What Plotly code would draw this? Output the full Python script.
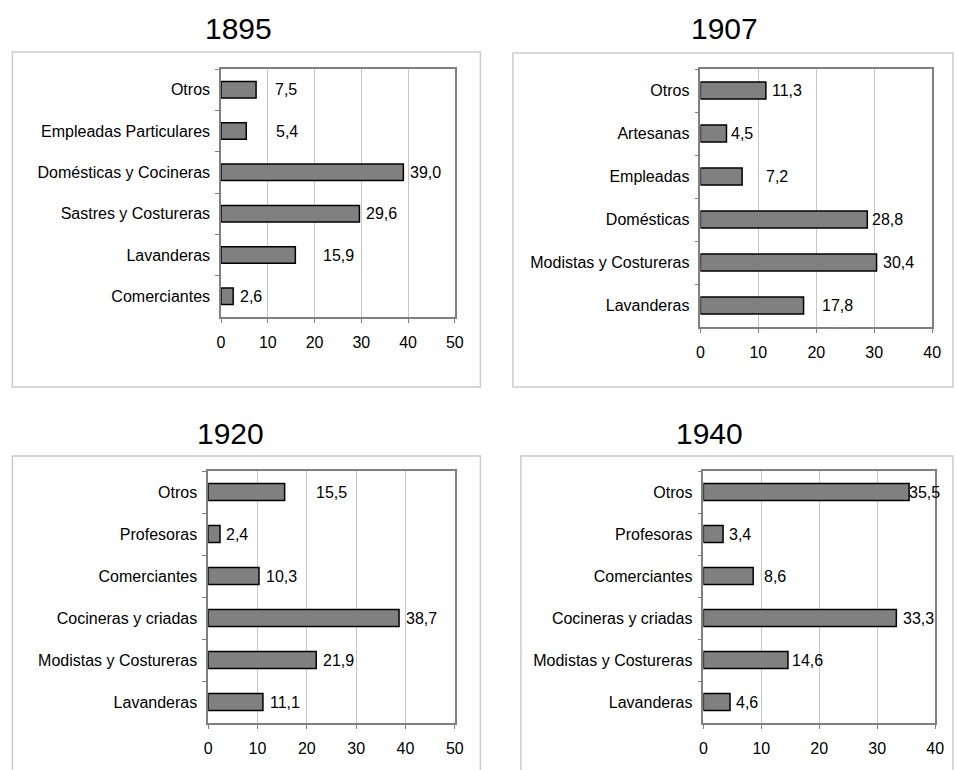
import plotly.graph_objects as go

# ---------------- data ----------------
years = ["1895", "1907", "1920", "1940"]

cats_1895 = ["Otros", "Empleadas Particulares", "Domésticas y Cocineras",
             "Sastres y Costureras", "Lavanderas", "Comerciantes"]
vals_1895 = [7.5, 5.4, 39.0, 29.6, 15.9, 2.6]

cats_1907 = ["Otros", "Artesanas", "Empleadas", "Domésticas",
             "Modistas y Costureras", "Lavanderas"]
vals_1907 = [11.3, 4.5, 7.2, 28.8, 30.4, 17.8]

cats_1920 = ["Otros", "Profesoras", "Comerciantes", "Cocineras y criadas",
             "Modistas y Costureras", "Lavanderas"]
vals_1920 = [15.5, 2.4, 10.3, 38.7, 21.9, 11.1]

cats_1940 = ["Otros", "Profesoras", "Comerciantes", "Cocineras y criadas",
             "Modistas y Costureras", "Lavanderas"]
vals_1940 = [35.5, 3.4, 8.6, 33.3, 14.6, 4.6]

x_max = [50, 40, 50, 40]
x_tick_step = 10

# ---------------- layout / style ----------------
W, H = 956, 770


def px_x(v):
    return v / W


def px_y(v):
    return 1 - v / H


# plot areas in window pixels: (left, right, top, bottom)
plot_px = [(220, 457, 69, 317), (706, 941, 69, 327),
           (207, 457, 471, 723), (709, 944, 471, 723)]
# outer frames in window pixels (left, right, top, bottom)
frame_px = [(8.5, 483, 52, 387), (516, 962, 53, 387),
            (8.5, 483, 456, 780), (524, 962, 456, 780)]
# title centres in window pixels
title_px = [(238, 29), (730, 29), (230, 433), (715, 433)]
# pixel offsets of the value labels from the bar ends (Excel manual placement)
label_gap = [[17, 28, 5, 5, 26, 5],
             [4, 3, 22, 3, 4, 16],
             [29, 4, 5, 5, 5, 5],
             [-2, 4, 9, 5, 2, 4]]

FONT = "Liberation Sans, Arial, sans-serif"
TITLE_FONT = "Liberation Sans Narrow, Arial Narrow, Liberation Sans, sans-serif"
BAR_FILL = "#808080"
AXIS_COL = "#808080"
GRID_COL = "#c8c8c8"
FRAME_COL = "#cccccc"

panels = [(cats_1895, vals_1895), (cats_1907, vals_1907),
          (cats_1920, vals_1920), (cats_1940, vals_1940)]

fig = go.Figure()
annotations = []
shapes = []
layout = {}

for i, (cats, vals) in enumerate(panels):
    n = i + 1
    xa = "x" if n == 1 else f"x{n}"
    ya = "y" if n == 1 else f"y{n}"
    fig.add_trace(go.Bar(
        x=vals, y=cats, orientation="h",
        xaxis=xa, yaxis=ya,
        width=0.4,
        marker=dict(color=BAR_FILL, line=dict(color="#000000", width=1.5)),
        hoverinfo="skip", showlegend=False,
    ))
    l, r, t, b = plot_px[i]
    layout[f"xaxis{'' if n == 1 else n}"] = dict(
        domain=[px_x(l), px_x(r)], anchor=ya,
        range=[0, x_max[i]], tickmode="linear", tick0=0, dtick=x_tick_step,
        showgrid=True, gridcolor=GRID_COL, gridwidth=1,
        showline=True, linecolor=AXIS_COL, linewidth=1.5, mirror=True,
        ticks="outside", ticklen=4, tickcolor=AXIS_COL, tickwidth=1,
        ticklabelstandoff=6,
        tickfont=dict(family=FONT, size=16, color="#000000"),
        zeroline=False, fixedrange=True,
    )
    layout[f"yaxis{'' if n == 1 else n}"] = dict(
        domain=[px_y(b), px_y(t)], anchor=xa,
        type="category", categoryorder="array", categoryarray=cats,
        autorange="reversed",
        showline=True, linecolor=AXIS_COL, linewidth=1.5, mirror=True,
        ticks="outside", ticklen=4, tickcolor=AXIS_COL, tickwidth=1,
        tickson="boundaries", ticklabelstandoff=6,
        tickfont=dict(family=FONT, size=16, color="#000000"),
        showgrid=False, zeroline=False, fixedrange=True,
    )
    for j, (c, v) in enumerate(zip(cats, vals)):
        annotations.append(dict(
            x=v, y=c, xref=xa, yref=ya, xanchor="left", yanchor="middle",
            xshift=label_gap[i][j], showarrow=False,
            text=f"{v:.1f}".replace(".", ","),
            font=dict(family=FONT, size=16, color="#000000"),
        ))
    tx, ty = title_px[i]
    annotations.append(dict(
        x=px_x(tx), y=px_y(ty), xref="paper", yref="paper",
        xanchor="center", yanchor="middle", showarrow=False,
        text=years[i], font=dict(family=TITLE_FONT, size=30, color="#000000"),
    ))
    fl, fr, ft, fb = frame_px[i]
    shapes.append(dict(
        type="rect", xref="paper", yref="paper",
        x0=px_x(fl), x1=px_x(fr), y0=px_y(fb), y1=px_y(ft),
        line=dict(color=FRAME_COL, width=1.5), fillcolor="rgba(0,0,0,0)",
        layer="below",
    ))

fig.update_layout(
    width=W, height=H,
    margin=dict(l=0, r=0, t=0, b=0),
    paper_bgcolor="white", plot_bgcolor="white",
    annotations=annotations, shapes=shapes,
    **layout,
)

fig.write_html(
    "out.html",
    config={"displayModeBar": False},
    post_script="document.body.style.margin='0px';"
                "document.body.style.overflow='hidden';",
)
